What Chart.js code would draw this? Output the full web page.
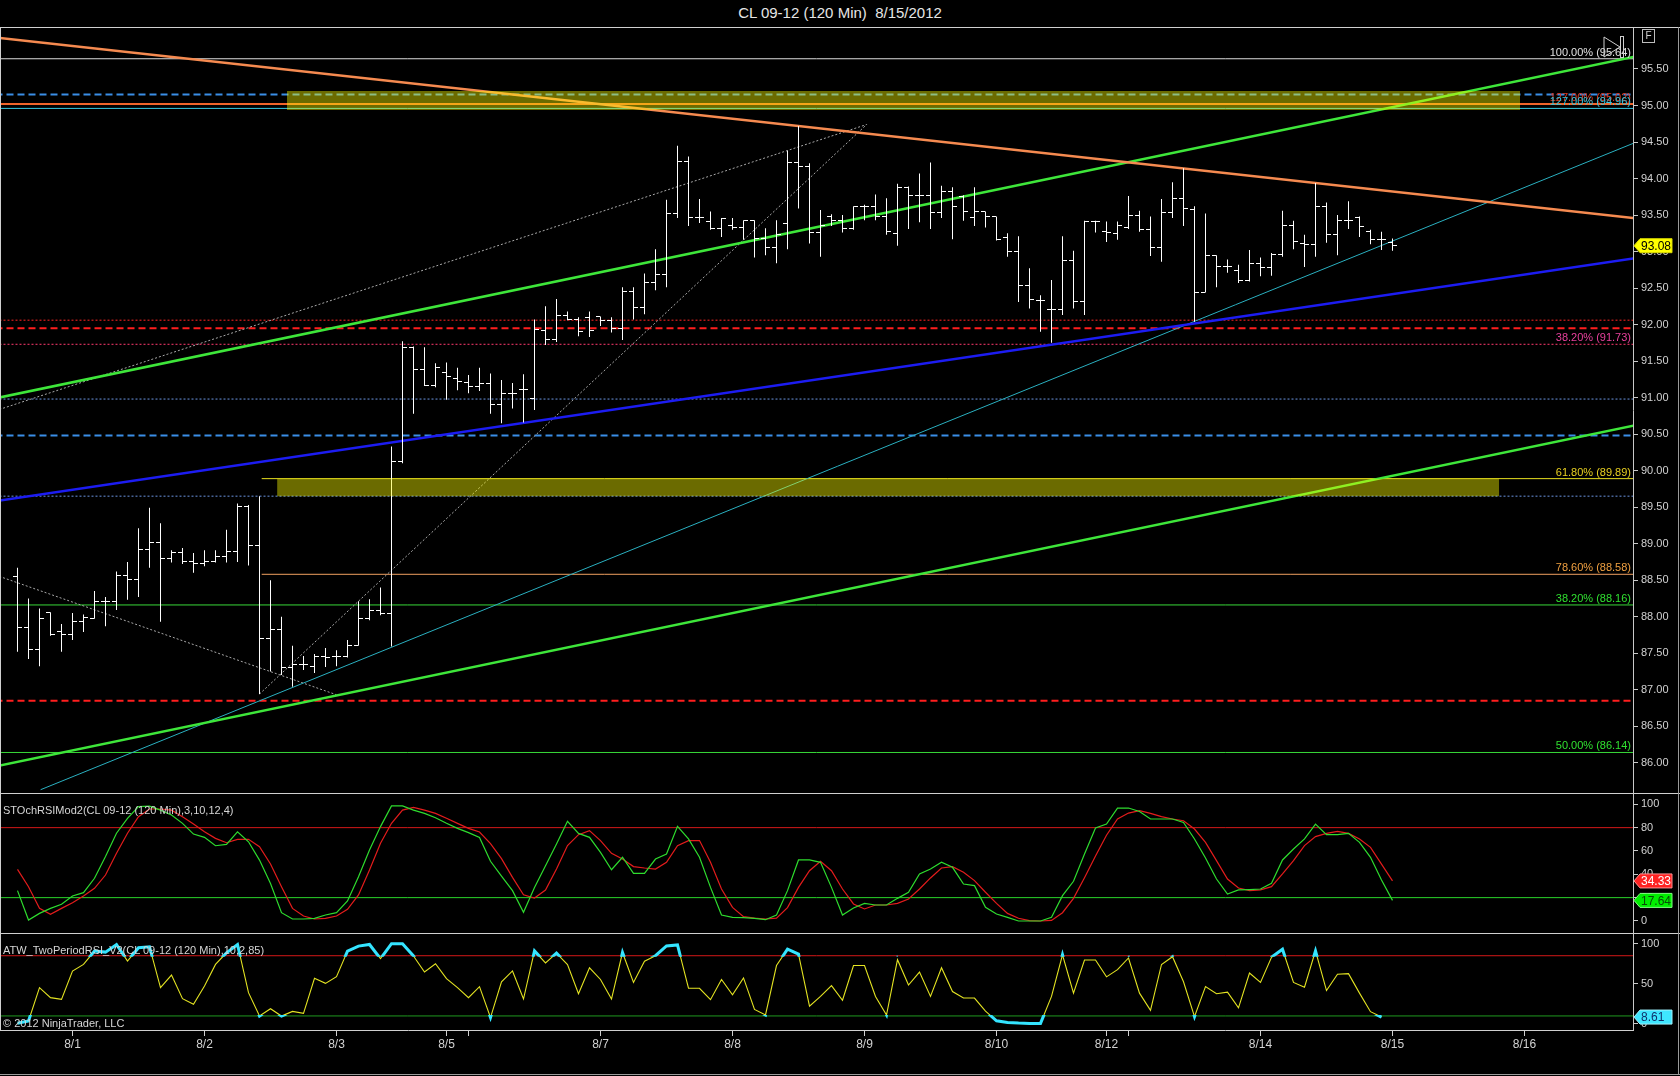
<!DOCTYPE html>
<html><head><meta charset="utf-8">
<script src="https://cdn.jsdelivr.net/npm/chart.js@4.4.0/dist/chart.umd.min.js"></script>
<style>
html,body{margin:0;padding:0;background:#000;width:1680px;height:1076px;overflow:hidden;font-family:"Liberation Sans",Arial,sans-serif;}
canvas{position:absolute;left:0;}
.txt{position:absolute;color:#d6d6d6;font-size:11px;line-height:13px;white-space:nowrap;z-index:5;}
.ln{position:absolute;background:#d0d0d0;z-index:4;}
#title{position:absolute;top:4px;left:0;width:1680px;text-align:center;color:#e6e6e6;font-size:15px;line-height:18px;}
#fbox{position:absolute;left:1642px;top:29px;width:11px;height:12px;border:1px solid #bdbdbd;color:#d0d0d0;font-size:10px;line-height:12px;text-align:center;z-index:5;}
</style></head>
<body>
<div id="title">CL 09-12 (120 Min)&nbsp; 8/15/2012</div>
<canvas id="cMain" width="1680" height="766" style="top:27px;width:1680px;height:766px"></canvas>
<canvas id="cStoch" width="1680" height="140" style="top:793px;width:1680px;height:140px"></canvas>
<canvas id="cRsi" width="1680" height="143" style="top:933px;width:1680px;height:143px"></canvas>
<div class="ln" style="left:0;top:27px;width:1680px;height:1px"></div>
<div class="ln" style="left:0;top:793px;width:1680px;height:1px"></div>
<div class="ln" style="left:0;top:933px;width:1680px;height:1px"></div>
<div class="ln" style="left:0;top:27px;width:1px;height:1004px"></div>
<div class="ln" style="left:1678px;top:27px;width:1px;height:1048px;background:#9a9a9a"></div>
<div class="ln" style="left:0;top:1074px;width:1680px;height:1px;background:#9a9a9a"></div>
<div id="fbox">F</div>
<svg style="position:absolute;left:1600px;top:34px;z-index:5" width="28" height="26"><polygon points="4,3 4,23 20,13" fill="none" stroke="#cfcfcf" stroke-width="1"/><rect x="20.5" y="2.5" width="3" height="21" fill="none" stroke="#cfcfcf" stroke-width="1"/></svg>
<div class="txt" style="left:3px;top:804px">STOchRSIMod2(CL 09-12 (120 Min),3,10,12,4)</div>
<div class="txt" style="left:3px;top:944px">ATW_TwoPeriodRSI_V2(CL 09-12 (120 Min),10,2,85)</div>
<div class="txt" style="left:3px;top:1017px">© 2012 NinjaTrader, LLC</div>
<script>
// ---------------- DATA ----------------
const openPx = [88.55,87.85,87.55,88.06,87.79,87.75,87.93,87.98,88.21,88.21,88.57,88.51,88.92,89.02,88.80,88.88,88.75,88.73,88.75,88.83,88.89,89.51,88.97,87.70,87.82,87.31,87.34,87.32,87.45,87.45,87.46,87.61,87.98,88.09,88.05,
 90.13,91.69,91.39,91.17,91.35,91.26,91.21,91.15,91.19,90.90,91.06,91.11,90.99,91.92,91.80,92.13,92.07,92.10,92.11,92.05,91.95,92.45,92.23,92.57,92.68,93.52,94.23,93.47,93.41,93.32,93.36,93.33,93.42,93.18,93.06,93.38,94.22,94.16,93.26,93.48,93.43,93.32,93.62,93.62,
 93.48,93.25,93.88,93.77,93.77,93.53,93.82,93.75,93.47,93.55,93.48,93.19,93.00,92.53,92.33,92.20,92.20,92.88,92.31,93.41,93.27,93.25,93.33,93.50,93.30,93.06,93.53,93.73,93.58,92.44,92.94,92.79,92.74,92.61,92.84,92.78,92.96,93.35,93.11,93.10,93.61,93.23,93.42,93.46,93.27,93.17,93.13];
const highPx = [88.67,88.25,88.11,88.06,87.90,88.05,88.03,88.35,88.27,88.62,88.75,89.21,89.49,89.28,88.91,88.94,88.87,88.91,88.91,89.19,89.55,89.53,89.65,88.50,88.00,87.60,87.46,87.49,87.57,87.54,87.68,88.21,88.24,88.40,90.33,
 91.77,91.70,91.69,91.47,91.48,91.41,91.31,91.41,91.33,91.24,91.20,91.32,92.07,92.25,92.35,92.18,92.10,92.18,92.11,92.10,92.51,92.51,92.70,93.03,93.71,94.45,94.30,93.72,93.55,93.46,93.46,93.43,93.43,93.32,93.43,94.38,94.72,94.21,93.57,93.51,93.50,93.62,93.64,93.78,
 93.73,93.93,93.89,94.07,94.22,93.90,93.88,93.77,93.88,93.55,93.48,93.25,93.21,92.77,92.40,92.61,93.21,93.01,93.42,93.42,93.41,93.41,93.76,93.56,93.48,93.72,93.95,94.14,93.62,93.52,92.95,92.89,92.82,93.02,92.92,92.98,93.56,93.42,93.23,93.94,93.67,93.50,93.69,93.48,93.30,93.27,93.18];
const lowPx = [87.52,87.42,87.32,87.74,87.52,87.68,87.79,87.97,87.87,88.09,88.23,88.27,88.67,87.93,88.74,88.72,88.60,88.69,88.74,88.74,88.75,88.70,86.94,87.25,87.20,87.04,87.27,87.23,87.31,87.32,87.44,87.60,87.95,88.02,87.59,
 90.10,90.78,91.16,91.14,90.97,91.10,91.06,91.09,90.78,90.65,90.85,90.66,90.83,91.72,91.76,92.06,91.84,91.83,91.98,91.89,91.79,92.07,92.14,92.47,92.51,93.46,93.35,93.39,93.30,93.20,93.30,93.16,92.92,92.95,92.84,93.03,93.59,93.11,92.93,93.35,93.26,93.30,93.43,93.43,
 93.23,93.08,93.31,93.40,93.31,93.46,93.17,93.42,93.35,93.33,93.15,92.93,92.31,92.22,91.90,91.75,92.13,92.22,92.13,93.26,93.13,93.16,93.31,93.27,92.94,92.86,93.46,93.35,92.04,92.44,92.51,92.71,92.57,92.59,92.66,92.67,92.93,93.03,92.79,92.93,93.12,92.95,93.31,93.20,93.10,93.02,93.01];
const closePx = [87.85,87.55,87.98,87.76,87.75,87.93,87.99,88.21,88.21,88.57,88.51,88.92,89.02,88.80,88.88,88.75,88.73,88.75,88.83,88.89,89.51,88.97,87.70,87.82,87.31,87.34,87.34,87.45,87.44,87.46,87.61,87.98,88.09,88.05,90.13,
 91.69,91.39,91.17,91.41,91.29,91.22,91.15,91.19,90.90,91.06,91.06,91.11,91.93,91.80,92.13,92.07,91.90,91.92,92.05,91.95,92.45,92.23,92.57,92.68,93.52,94.23,93.47,93.47,93.32,93.45,93.33,93.42,93.18,93.06,93.23,94.22,94.16,93.26,93.36,93.43,93.32,93.62,93.62,93.48,
 93.27,93.88,93.77,93.77,93.53,93.82,93.62,93.55,93.55,93.48,93.16,93.00,92.53,92.35,92.33,92.20,92.88,92.31,93.41,93.41,93.26,93.36,93.50,93.30,93.06,93.53,93.73,93.59,92.44,92.94,92.79,92.79,92.61,92.84,92.78,92.96,93.35,93.14,93.10,93.61,93.23,93.42,93.42,93.34,93.17,93.17,93.08];

const stochK = [26,0.8,6.5,10.8,14.3,21.4,24.3,36.6,55.2,75.2,88,98,98.5,95,90.8,83.7,74.5,71.7,64.5,65.7,
 76.5,67.9,52.2,32.2,7.1,1.7,1.7,2.3,5.1,7.1,17.1,38,60.9,80.9,98.6,98.6,95,92.2,88.5,83.7,
 79.4,75.7,71.5,51.2,38.5,26,7.4,28.8,47.4,66,85.4,75.1,71.7,58.8,43.9,54.6,40.8,40.8,53.1,57.4,
 81.1,70.3,54.6,28.8,5.1,3.1,2.8,2.3,1.1,5.1,26,52.3,52.3,50.3,28.8,5.1,11.1,15.1,13.7,13.7,
 19.4,24.6,40.3,44.5,50.3,46,31.7,30.3,11.7,6,3.1,0,0,0,3.1,21.7,34,57.4,79.7,83.1,
 96.8,96.8,93.9,87.4,87.4,87.4,84.5,70.3,54,36,23.1,26.6,26.9,27.4,32.3,52.3,61.7,70.3,83.1,74,
 74,75.1,67.4,54.6,35.1,17.64];
const stochD = [44.2,29.4,10.8,5.7,10.8,15.7,21.4,28,39.4,58,75.2,89.4,96,96,95,89.4,83.1,76.5,70.8,67.1,
 70,70,63.7,48.8,29.4,10.8,4.3,1.7,2.3,4.3,10,22.3,43.7,66.6,83.7,95,97.4,95,92.2,88,
 83.7,79.4,76.3,66.3,53.4,37.4,22.5,19.7,26.5,44.5,64.6,74,77.5,68.9,58,53.1,46.6,45.4,44.5,50.3,
 64.6,68.9,68.9,50.3,27.4,11.7,3.7,2.5,1.7,2.5,11.5,28.8,43.1,51.1,43.1,27.4,14.6,10.3,13.7,13.7,
 15.1,18.9,27.4,36.9,45.4,46.6,41.7,34.6,24.6,15.1,6.5,2.3,0.3,0,0.5,7.1,19.4,37.1,55.7,73.5,
 87.4,92.5,94.5,92.2,89.4,87.4,85.9,78.8,67.4,51.7,36,28.3,26,26.6,29.4,40.3,51.7,64.6,72.3,75.1,
 76.8,75.1,70.3,63.1,48.8,34.33];
const rsi2 = [1,3.7,45.2,32.8,30.7,65.9,74.2,90.8,89.5,99,78.4,95,96.2,45.2,60.9,31.5,24.5,47.3,74.2,88.7,
 99,39,9.9,19,9.9,15.7,13.2,56.8,50.6,58.9,90.8,97,99,81.3,100,100,84.6,64.7,75,56.4,
 45.2,32.8,46.5,8,52.6,66,31.1,91,76.1,88.2,74,37.6,70,55.4,31.1,89,51.8,78.1,85,97.2,
 98.4,44.5,44.5,30.3,55.4,36.4,57.4,18.1,11.2,72.8,93.1,87,22.2,34.3,47.7,29.5,72.8,72.8,34.3,11.2,
 80.1,48.5,64.7,34.3,70,40.4,32.3,32.3,16.1,3.9,1.9,1.1,0.7,0.7,34.3,86.2,38.4,79.7,79.7,58.7,
 67.6,82.2,38.4,16.9,74.1,83.8,52.6,9.2,46.5,37.6,39.6,20.1,63.5,51.8,83,93.1,51.8,45.7,91.1,41.6,
 61.9,62.7,38.4,15.3,8.61];

const dayTickIndex  = [5,17,29,39,41,53,65,77,89,99,101,113,125,137];
const dayTickLabels = ['8/1','8/2','8/3','8/5','','8/7','8/8','8/9','8/10','8/12','','8/14','8/15','8/16'];
const priceTicks = [86,86.5,87,87.5,88,88.5,89,89.5,90,90.5,91,91.5,92,92.5,93,93.5,94,94.5,95,95.5];
const stochTicks = [0,20,40,60,80,100];
const rsiTicks = [0,50,100];

// drawing objects (bar index / price)
const levelPrices  = [95.64,95.15,95.02,94.96,92.06,91.95,91.73,90.98,90.48,89.89,89.65,88.58,88.16,86.85,86.14];
const levelFromBar = [-2,-2,-2,-2,-2,-2,-2,-2,-2,22.2,-2,22.2,-2,-2,-2];
const trendFromBar   = [-2,-2,-2,-2,2.1,-2,22,-2];
const trendFromPrice = [95.93,90.99,85.95,89.58,85.63,90.82,86.94,88.57];
const trendToBar     = [148,148,148,148,148,77.2,77.2,29];
const trendToPrice   = [93.44,95.70,90.65,92.93,94.55,94.74,94.74,86.93];
const zoneFromBar = [24.5,23.6];
const zoneToBar   = [136.6,134.7];
const zoneTop     = [95.20,89.89];
const zoneBottom  = [94.94,89.65];
const fibTexts  = ['100.00% (95.64)','127.00% (95.02)','127.00% (94.96)','38.20% (91.73)','61.80% (89.89)','78.60% (88.58)','38.20% (88.16)','50.00% (86.14)'];
const fibValues = [95.64,95.02,94.96,91.73,89.89,88.58,88.16,86.14];
const stochLevels = [80,20];
const rsiLevels = [85,10];

// ---------------- STYLES ----------------
const X_MIN = -1.5909, X_MAX = 146.8636;
const FONT = '"Liberation Sans", Arial, sans-serif';
const levelStyles = [
 {c:'#dcdcdc',w:1,d:[]},{c:'#3a8ee6',w:2,d:[7,4]},{c:'#f0642a',w:2,d:[]},{c:'#35c6e0',w:1,d:[]},
 {c:'#ff2424',w:1,d:[2,2]},{c:'#ff1e1e',w:2,d:[7,4]},{c:'#ff3a6e',w:1,d:[2,2]},{c:'#6a94e0',w:1,d:[2,2]},
 {c:'#3a8ee6',w:2,d:[7,4]},{c:'#e8e020',w:1,d:[]},{c:'#6a94e0',w:1,d:[2,2]},{c:'#f0a060',w:1,d:[]},
 {c:'#38d838',w:1,d:[]},{c:'#ff1e1e',w:2,d:[7,4]},{c:'#38d838',w:1,d:[]}];
const trendStyles = [
 {c:'#f58a50',w:2.5,d:[]},{c:'#3ee63a',w:2.5,d:[]},{c:'#3ee63a',w:2.5,d:[]},{c:'#1c1cf2',w:2.5,d:[]},
 {c:'#2ab0c0',w:1,d:[]},{c:'#a8a8a8',w:1,d:[2,2]},{c:'#a8a8a8',w:1,d:[2,2]},{c:'#a8a8a8',w:1,d:[2,2]}];
const fibColors = ['#e0e0e0','#e03a22','#35c6e0','#e8409c','#e8d020','#f0a040','#30e030','#30e030'];

function tickImage(side){
  const c=document.createElement('canvas'); c.width=9; c.height=1;
  const g=c.getContext('2d'); g.fillStyle='#ffffff'; g.fillRect(side<0?0:5,0,4,1); return c;
}
function yAxis(min,max,ticks,fmt){
  return {position:'right',min,max,
    afterBuildTicks:s=>{s.ticks=ticks.map(v=>({value:v}));},
    ticks:{color:'#d2d2d2',font:{size:11,family:FONT},padding:3,callback:v=>fmt(v)},
    grid:{drawOnChartArea:false,drawTicks:true,tickLength:5,color:'#c8c8c8'},
    border:{display:true,color:'#c8c8c8'},
    afterFit:s=>{s.width=47;s.paddingTop=0;s.paddingBottom=0;}};
}
function hiddenX(){ return {type:'linear',min:X_MIN,max:X_MAX,offset:false,display:false}; }
function lineDs(x0,y0,x1,y1,st,order){
  return {type:'line',data:[{x:x0,y:y0},{x:x1,y:y1}],borderColor:st.c,borderWidth:st.w,borderDash:st.d,
          pointRadius:0,fill:false,tension:0,order};
}
function drawFlag(ctx,x,py,text,bg,fg,bd){
  ctx.save();
  ctx.beginPath(); ctx.moveTo(x+1,py); ctx.lineTo(x+7,py-7); ctx.lineTo(x+39,py-7); ctx.lineTo(x+39,py+7); ctx.lineTo(x+7,py+7); ctx.closePath();
  ctx.fillStyle=bg; ctx.fill(); ctx.strokeStyle=bd; ctx.lineWidth=1; ctx.stroke();
  ctx.fillStyle=fg; ctx.font='12px '+FONT; ctx.textAlign='left'; ctx.textBaseline='middle';
  ctx.fillText(text,x+8,py+1);
  ctx.restore();
}
function flagPlugin(items){
  return {id:'flags',afterDraw(chart){
    const {ctx,chartArea:a,scales:{y}}=chart;
    items.forEach(f=>drawFlag(ctx,a.right,y.getPixelForValue(f.v),f.v.toFixed(2),f.bg,f.fg,f.bd));
  }};
}
const common = {responsive:false,maintainAspectRatio:false,animation:false,events:[],
  layout:{padding:0,autoPadding:false},plugins:{legend:{display:false},tooltip:{enabled:false}}};

// ---------------- MAIN PRICE CHART ----------------
const mainDs = [];
zoneTop.forEach((t,k)=>mainDs.push({type:'line',data:[{x:zoneFromBar[k],y:t},{x:zoneToBar[k],y:t}],
  borderWidth:0,pointRadius:0,fill:{value:zoneBottom[k]},backgroundColor:'rgba(255,255,0,0.42)',order:0}));
mainDs.push({type:'bar',data:highPx.map((h,i)=>({x:i,y:[lowPx[i],h]})),backgroundColor:'#ffffff',
  barThickness:1,grouped:false,inflateAmount:0,borderWidth:0,order:1});
mainDs.push({type:'scatter',data:openPx.map((o,i)=>({x:i,y:o})),pointStyle:tickImage(-1),pointRadius:3,order:1});
mainDs.push({type:'scatter',data:closePx.map((c,i)=>({x:i,y:c})),pointStyle:tickImage(1),pointRadius:3,order:1});
trendFromBar.forEach((b,k)=>mainDs.push(lineDs(b,trendFromPrice[k],trendToBar[k],trendToPrice[k],trendStyles[k],2)));
levelPrices.forEach((p,k)=>mainDs.push(lineDs(levelFromBar[k],p,148,p,levelStyles[k],3)));

const fibPlugin = {id:'fibText',afterDatasetsDraw(chart){
  const {ctx,chartArea:a,scales:{y}}=chart;
  ctx.save(); ctx.font='11px '+FONT; ctx.textAlign='right'; ctx.textBaseline='alphabetic';
  fibTexts.forEach((t,i)=>{ctx.fillStyle=fibColors[i]; ctx.fillText(t,a.right-2,y.getPixelForValue(fibValues[i])-3);});
  ctx.restore();
}};

new Chart(document.getElementById('cMain'),{
  type:'scatter',data:{datasets:mainDs},
  options:Object.assign({},common,{scales:{x:hiddenX(),y:yAxis(85.585,96.075,priceTicks,v=>v.toFixed(2))}}),
  plugins:[fibPlugin,flagPlugin([{v:closePx[closePx.length-1],bg:'#ffff00',fg:'#000000',bd:'#d8d800'}])]
});

// ---------------- STOCH RSI PANEL ----------------
const stochDs = [
  {type:'line',data:stochK.map((v,i)=>({x:i,y:v})),borderColor:'#2edc2e',borderWidth:1.2,pointRadius:0,tension:0,order:0},
  {type:'line',data:stochD.map((v,i)=>({x:i,y:v})),borderColor:'#e41c1c',borderWidth:1.2,pointRadius:0,tension:0,order:1},
  lineDs(-2,stochLevels[0],148,stochLevels[0],{c:'#d41818',w:1,d:[]},2),
  lineDs(-2,stochLevels[1],148,stochLevels[1],{c:'#2ad42a',w:1,d:[]},2)
];
new Chart(document.getElementById('cStoch'),{
  type:'scatter',data:{datasets:stochDs},
  options:Object.assign({},common,{scales:{x:hiddenX(),y:yAxis(-10.3,109.7,stochTicks,v=>String(v))}}),
  plugins:[flagPlugin([{v:stochD[stochD.length-1],bg:'#ff2222',fg:'#ffffff',bd:'#ff9090'},
                       {v:stochK[stochK.length-1],bg:'#00ee00',fg:'#0a4a0a',bd:'#80ff80'}])]
});

// ---------------- TWO PERIOD RSI PANEL ----------------
const bandClip = {id:'bandClip',
  beforeDatasetDraw(chart,args){
    if(!chart.data.datasets[args.index].clipBands) return;
    const y=chart.scales.y,a=chart.chartArea,ctx=chart.ctx;
    const hi=y.getPixelForValue(rsiLevels[0])+1, lo=y.getPixelForValue(rsiLevels[1])-1;
    ctx.save(); ctx.beginPath();
    ctx.rect(a.left,a.top,a.width,hi-a.top); ctx.rect(a.left,lo,a.width,a.bottom-lo); ctx.clip();
  },
  afterDatasetDraw(chart,args){ if(chart.data.datasets[args.index].clipBands) chart.ctx.restore(); }
};
const rsiDs = [
  {type:'line',data:rsi2.map((v,i)=>({x:i,y:v})),borderColor:'#34e4ff',borderWidth:3,pointRadius:0,tension:0,order:0,clipBands:true},
  {type:'line',data:rsi2.map((v,i)=>({x:i,y:v})),borderColor:'#e4e422',borderWidth:1.1,pointRadius:0,tension:0,order:1},
  lineDs(-2,rsiLevels[0],148,rsiLevels[0],{c:'#d41818',w:1,d:[]},2),
  lineDs(-2,rsiLevels[1],148,rsiLevels[1],{c:'#1f9a1f',w:1,d:[]},2)
];
new Chart(document.getElementById('cRsi'),{
  type:'scatter',data:{datasets:rsiDs},
  options:Object.assign({},common,{scales:{
    x:{type:'linear',position:'bottom',min:X_MIN,max:X_MAX,offset:false,
       afterBuildTicks:s=>{s.ticks=dayTickIndex.map(v=>({value:v}));},
       ticks:{autoSkip:false,maxRotation:0,minRotation:0,color:'#d2d2d2',font:{size:12,family:FONT},padding:1,
              callback:(v,i)=>dayTickLabels[i]},
       grid:{drawOnChartArea:false,drawTicks:true,tickLength:6,color:'#d0d0d0',offset:false},
       border:{display:true,color:'#d0d0d0'},
       afterFit:s=>{s.height=46;s.paddingLeft=0;s.paddingRight=0;}},
    y:yAxis(-7.5,113.3,rsiTicks,v=>String(v))}}),
  plugins:[bandClip,flagPlugin([{v:rsi2[rsi2.length-1],bg:'#3fe6ff',fg:'#10306a',bd:'#a0f4ff'}])]
});
</script>
</body></html>
